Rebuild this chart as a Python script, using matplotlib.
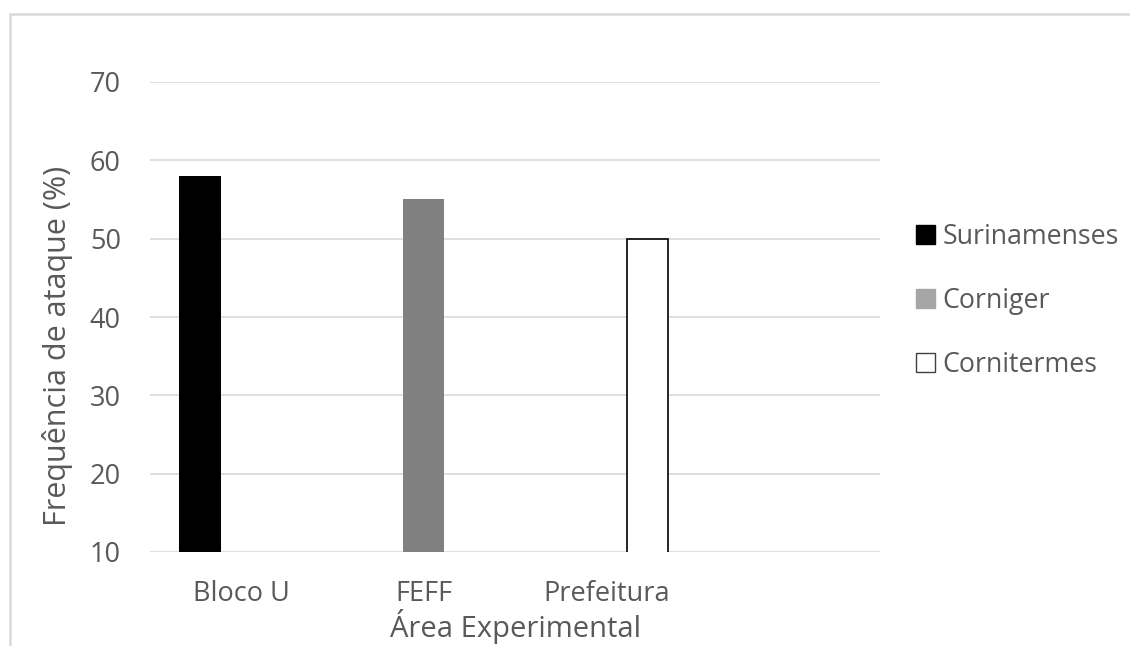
import matplotlib
matplotlib.use("Agg")
import matplotlib.pyplot as plt
from matplotlib.patches import Rectangle, Patch
import numpy as np

categories = ["Bloco U", "FEFF", "Prefeitura", ""]
series_names = ["Surinamenses", "Corniger", "Cornitermes"]
surinamenses = [58, np.nan, np.nan, np.nan]
corniger = [np.nan, 55, np.nan, np.nan]
cornitermes = [np.nan, np.nan, 50, np.nan]
y_ticks = [10, 20, 30, 40, 50, 60, 70]

plt.rcParams["font.family"] = ["Open Sans", "DejaVu Sans"]
text_color = "#595959"

fig = plt.figure(figsize=(11.30, 6.46), dpi=100)
ax = fig.add_axes([150 / 1130, 1 - 552 / 646, 730 / 1130, (552 - 82) / 646])

x = np.arange(len(categories))
w = 0.227
ax.bar(x - w, surinamenses, width=w, color="black", zorder=3)
ax.bar(x, corniger, width=w, color="#808080", zorder=3)
ax.bar(x + w, cornitermes, width=w, color="white", edgecolor="black", linewidth=1.2, zorder=3)

ax.set_xlim(-0.5, len(categories) - 0.5)
ax.set_ylim(10, 70)
ax.set_yticks(y_ticks)
ax.set_xticks(x)
ax.set_xticklabels(categories)
ax.grid(axis="y", color="#d9d9d9", linewidth=1.2, zorder=0)
for s in ax.spines.values():
    s.set_visible(False)
ax.tick_params(length=0, labelsize=19.5, labelcolor=text_color)
ax.tick_params(axis="y", pad=21)
ax.tick_params(axis="x", pad=20)

ax.set_ylabel("Frequência de ataque (%)", fontsize=22, color=text_color)
ax.yaxis.set_label_coords(-0.105, 0.438)
ax.set_xlabel("Área Experimental", fontsize=21, color=text_color, labelpad=1)

handles = [
    Patch(facecolor="black", edgecolor="black"),
    Patch(facecolor="#a6a6a6", edgecolor="#a6a6a6"),
    Patch(facecolor="white", edgecolor="#404040"),
]
leg = fig.legend(handles, series_names, loc="center left",
                 bbox_to_anchor=(916 / 1130, 1 - 301 / 646), frameon=False,
                 borderpad=0, borderaxespad=0,
                 fontsize=19.3, labelcolor=text_color, handlelength=0.7,
                 handleheight=0.7, handletextpad=0.3, labelspacing=1.35)

# chart area border
fig.patches.append(Rectangle((10 / 1130, -0.5), 1.5, 0.5 + (646 - 14) / 646,
                             transform=fig.transFigure, fill=False,
                             edgecolor="#d9d9d9", linewidth=1.8))

fig.savefig("out.png", dpi=100)
